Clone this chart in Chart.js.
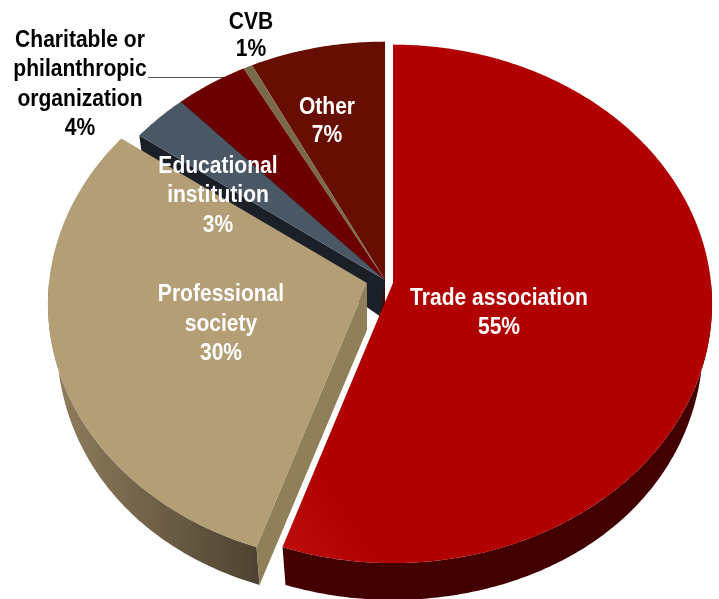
<!DOCTYPE html>
<html><head><meta charset="utf-8">
<style>html,body{margin:0;padding:0;background:#fff}#w{position:relative;width:719px;height:599px}</style>
<script src="https://cdn.jsdelivr.net/npm/chart.js@4"></script>
</head><body><div id="w"><canvas id="c"></canvas></div>
<script>
const categories = ["Trade association","Professional society","Educational institution","Charitable or philanthropic organization","CVB","Other"];
const shares = [55.2,29.8,3.1,4.0,0.5,7.4];
const faceColors = ["#b00000","#b39e75","#4a5866","#6c0000","#7a6a4a","#670e02"];

// Layout of the tilted, exploded pie (not data)
const EXPLODE = [[33.5,-16.5],[7.5,-16.5],[25.5,-19.5],[25.5,-19.5],[25.5,-19.5],[25.5,-19.5]];
const TILT = {kx:1.0618, ky:0.8600, c:0.0805, botX:0.973, botY:0.948, depth:33};
const LABELS = [
  {i:0,x:499,y:[298.5,327.5],t:["Trade association","55%"],c:"#fff"},
  {i:1,x:221,y:[294.5,324.5,353.5],t:["Professional","society","30%"],c:"#fff"},
  {i:2,x:218,y:[166.5,195.5,225.5],t:["Educational","institution","3%"],c:"#fff"},
  {i:3,x:80,y:[40.5,69.5,99.5,128.5],t:["Charitable or","philanthropic","organization","4%"],c:"#000"},
  {i:4,x:251,y:[22.5,49.5],t:["CVB","1%"],c:"#000"},
  {i:5,x:327,y:[107.5,135.5],t:["Other","7%"],c:"#fff"}
];
const TEXT_SQUEEZE = 0.915;

function topPt(el,i,a){
  const R=el.outerRadius,u=Math.cos(a),v=Math.sin(a),d=1-TILT.c*v;
  return [el.x+EXPLODE[i][0]+R*TILT.kx*u/d, el.y+EXPLODE[i][1]+R*TILT.ky*v/d];
}
function botPt(el,i,a){
  const R=el.outerRadius,u=Math.cos(a),v=Math.sin(a),d=1-TILT.c*v;
  return [el.x+EXPLODE[i][0]+R*TILT.kx*u/d*TILT.botX, el.y+EXPLODE[i][1]+TILT.depth+R*TILT.botY*v];
}
function arcPts(f,el,i,a0,a1){
  const n=Math.max(2,Math.ceil(Math.abs(a1-a0)/0.01)),p=[];
  for(let k=0;k<=n;k++)p.push(f(el,i,a0+(a1-a0)*k/n));
  return p;
}
function fillPoly(ctx,pts,fill){
  ctx.beginPath();pts.forEach((p,k)=>k?ctx.lineTo(p[0],p[1]):ctx.moveTo(p[0],p[1]));
  ctx.closePath();ctx.fillStyle=fill;ctx.fill();
}
function apex(el,i){return [el.x+EXPLODE[i][0],el.y+EXPLODE[i][1]];}
function face(ctx,el,i,fill){
  fillPoly(ctx,[apex(el,i),...arcPts(topPt,el,i,el.startAngle,el.endAngle)],fill||el.options.backgroundColor);
}
function side(ctx,el,i,a0,a1,fill){
  fillPoly(ctx,[...arcPts(topPt,el,i,a0,a1),...arcPts(botPt,el,i,a1,a0)],fill);
}

class Pie3D extends Chart.PieController{
  static id='pie3d';
  draw(){
    const ctx=this.chart.ctx,E=this.getMeta().data;
    ctx.save();
    // leader line of the charitable slice, running under its face
    ctx.strokeStyle="#555";ctx.lineWidth=1;ctx.beginPath();ctx.moveTo(148,77.5);ctx.lineTo(225,77.5);ctx.stroke();
    // back cluster: radial walls then faces
    const edu=E[2],A=apex(edu,2);
    fillPoly(ctx,[A,[A[0],A[1]+27],[A[0]-4,A[1]+37],[A[0]-10,A[1]]],"#3a0a02");
    const eduTop=topPt(edu,2,edu.startAngle);
    fillPoly(ctx,[A,eduTop,[eduTop[0]+2,eduTop[1]+15],[A[0]-4,A[1]+37]],"#1a1f28");
    [5,4,3,2].forEach(i=>face(ctx,E[i],i));
    // dark seam between the educational and charitable faces
    const seam=topPt(E[3],3,E[3].startAngle);
    ctx.strokeStyle="rgba(30,0,0,0.7)";ctx.lineWidth=1;ctx.beginPath();ctx.moveTo(A[0],A[1]);ctx.lineTo(seam[0],seam[1]);ctx.stroke();
    // professional society: outer side, wall, face
    const p=E[1],g=ctx.createLinearGradient(55,0,258,0);
    g.addColorStop(0,"#8f7d5c");g.addColorStop(1,"#4e4332");
    side(ctx,p,1,p.startAngle,Math.PI,g);
    const pA=apex(p,1);
    fillPoly(ctx,[pA,topPt(p,1,p.startAngle),botPt(p,1,p.startAngle),[pA[0],pA[1]+47]],"#8f8059");
    face(ctx,p,1);
    // trade association: outer side and face
    const r=E[0];
    side(ctx,r,0,0,r.endAngle,"#420000");
    const rg=ctx.createLinearGradient(285,545,345,505);
    rg.addColorStop(0,"#bc0c0c");rg.addColorStop(1,r.options.backgroundColor);
    face(ctx,r,0,rg);
    // labels
    ctx.textAlign="center";ctx.textBaseline="middle";
    ctx.font="bold 23px 'Liberation Sans',Arial,sans-serif";
    LABELS.forEach(l=>{
      ctx.fillStyle=l.c;
      l.t.forEach((s,k)=>{
        ctx.save();ctx.translate(l.x,l.y[k]);ctx.scale(TEXT_SQUEEZE,1);ctx.fillText(s,0,0);ctx.restore();
      });
    });
    ctx.restore();
  }
}
Chart.register(Pie3D);
new Chart(document.getElementById('c'),{
  type:'pie3d',
  data:{labels:categories,datasets:[{data:shares,backgroundColor:faceColors,borderWidth:0}]},
  options:{responsive:true,maintainAspectRatio:false,animation:false,events:[],
    layout:{padding:0},
    plugins:{legend:{display:false},tooltip:{enabled:false}}}
});
</script></body></html>
